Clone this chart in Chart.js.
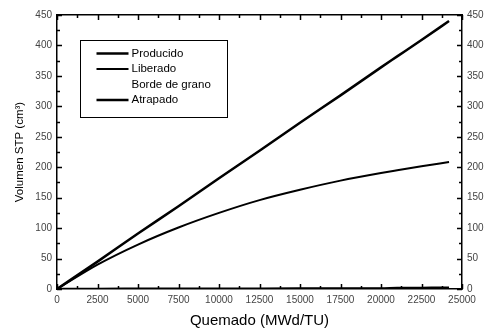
<!DOCTYPE html>
<html lang="es">
<head>
<meta charset="UTF-8">
<title>Volumen STP vs Quemado</title>
<script src="https://cdn.jsdelivr.net/npm/chart.js"></script>
<style>
  html, body { margin: 0; padding: 0; background: #fff; }
  #wrap { width: 489px; height: 331px; }
</style>
</head>
<body>
<div id="wrap"><canvas id="myChart" width="489" height="331"></canvas></div>
<script>
// datos
const quemado    = [0, 2500, 5000, 7500, 10000, 12500, 15000, 17500, 20000, 21000, 22500, 24200];
const producido  = [0, 45, 91, 136, 182, 227, 273, 318, 364, 382, 409, 440];
const liberado   = [0, 40, 73, 101, 125, 146, 163, 178, 190.5, 195, 201.5, 208.5];
const bordeGrano = [0, 0.3, 0.5, 0.6, 0.7, 0.8, 0.9, 1.0, 1.1, 1.1, 1.2, 1.3];
const atrapado   = [0, 0.2, 0.3, 0.4, 0.5, 0.6, 0.7, 0.8, 1.0, 1.6, 1.8, 2.0];

const xTickStep = 2500, yTickStep = 50;

function pts(ys) {
    return quemado.map((x, i) => ({ x: x, y: ys[i] }));
}

// ticks hacia adentro + leyenda dentro del grafico
const innerTicks = {
    id: 'innerTicks',
    afterDraw(chart) {
        const ctx = chart.ctx;
        const a = chart.chartArea;
        const sx = chart.scales.x, sy = chart.scales.y;
        ctx.save();
        ctx.strokeStyle = '#000';
        ctx.lineWidth = 1.5;
        ctx.beginPath();
        for (let v = 0; v <= 25000; v += xTickStep / 2) {
            const px = Math.round(sx.getPixelForValue(v)) + 0.5;
            const len = v % xTickStep === 0 ? 5 : 3;
            ctx.moveTo(px, a.bottom); ctx.lineTo(px, a.bottom - len);
            ctx.moveTo(px, a.top); ctx.lineTo(px, a.top + len);
        }
        for (let v = 0; v <= 450; v += yTickStep / 2) {
            const py = Math.round(sy.getPixelForValue(v)) + 0.5;
            const len = v % yTickStep === 0 ? 5 : 3;
            ctx.moveTo(a.left, py); ctx.lineTo(a.left + len, py);
            ctx.moveTo(a.right, py); ctx.lineTo(a.right - len, py);
        }
        ctx.stroke();

        // leyenda
        const bx = a.left + 23.5, by = a.top + 25.5;
        ctx.lineWidth = 1;
        ctx.strokeRect(bx, by, 147, 77);
        ctx.font = '11.5px "Liberation Sans", Arial, sans-serif';
        ctx.fillStyle = '#000';
        ctx.textBaseline = 'middle';
        chart.data.datasets.forEach((ds, i) => {
            const y = by + 13 + i * 15.5;
            if (ds.legendLine !== false) {
                ctx.lineWidth = ds.borderWidth;
                ctx.beginPath();
                ctx.moveTo(bx + 16, y); ctx.lineTo(bx + 48, y);
                ctx.stroke();
            }
            ctx.fillText(ds.label, bx + 51, y);
        });
        ctx.restore();
    }
};

const tickFont = { family: '"Liberation Sans", Arial, sans-serif', size: 10 };

new Chart(document.getElementById('myChart'), {
    type: 'line',
    data: {
        datasets: [
            { label: 'Producido', data: pts(producido), borderColor: '#000', borderWidth: 2.5, pointRadius: 0 },
            { label: 'Liberado', data: pts(liberado), borderColor: '#000', borderWidth: 2, pointRadius: 0 },
            { label: 'Borde de grano', data: pts(bordeGrano), borderColor: '#000', borderWidth: 1, pointRadius: 0, legendLine: false },
            { label: 'Atrapado', data: pts(atrapado), borderColor: '#000', borderWidth: 2.5, pointRadius: 0 }
        ]
    },
    options: {
        responsive: false,
        animation: false,
        events: [],
        layout: { padding: 0 },
        elements: { line: { cubicInterpolationMode: 'monotone' } },
        plugins: { legend: { display: false }, tooltip: { enabled: false } },
        scales: {
            x: {
                type: 'linear', position: 'bottom', min: 0, max: 25000,
                afterFit: s => { s.height = 42; },
                grid: { display: false, drawTicks: false },
                border: { display: true, color: '#000', width: 1.5 },
                ticks: { stepSize: xTickStep, padding: 5, color: '#444', font: tickFont, maxRotation: 0,
                         callback: v => String(v) },
                title: { display: true, text: 'Quemado (MWd/TU)', color: '#000',
                         font: { family: '"Liberation Sans", Arial, sans-serif', size: 15 },
                         padding: { top: 0, bottom: 1 } }
            },
            x2: {
                type: 'linear', position: 'top', min: 0, max: 25000,
                afterFit: s => { s.height = 15; },
                grid: { display: false, drawTicks: false },
                border: { display: true, color: '#000', width: 1.5 },
                ticks: { display: false }
            },
            y: {
                type: 'linear', position: 'left', min: 0, max: 450,
                afterFit: s => { s.width = 57; },
                grid: { display: false, drawTicks: false },
                border: { display: true, color: '#000', width: 1.5 },
                ticks: { stepSize: yTickStep, padding: 5, color: '#444', font: tickFont },
                title: { display: true, text: 'Volumen STP (cm³)', color: '#000',
                         font: { family: '"Liberation Sans", Arial, sans-serif', size: 11.5 },
                         padding: { top: 13, bottom: 0 } }
            },
            y2: {
                type: 'linear', position: 'right', min: 0, max: 450,
                afterFit: s => { s.width = 27; },
                grid: { display: false, drawTicks: false },
                border: { display: true, color: '#000', width: 1.5 },
                ticks: { stepSize: yTickStep, padding: 5, color: '#444', font: tickFont }
            }
        }
    },
    plugins: [innerTicks]
});
</script>
</body>
</html>
